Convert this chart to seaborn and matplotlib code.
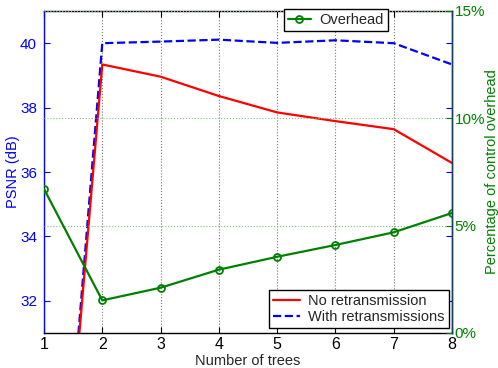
import numpy as np
import pandas as pd
import seaborn as sns
import matplotlib
matplotlib.use('Agg')
import matplotlib.pyplot as plt
from matplotlib.ticker import FormatStrFormatter

# Data
trees = [1, 2, 3, 4, 5, 6, 7, 8]
psnr_no_retx = [18.1, 39.34, 38.96, 38.36, 37.85, 37.58, 37.33, 36.28]
psnr_with_retx = [18.0, 40.0, 40.05, 40.11, 40.01, 40.09, 40.0, 39.34]
overhead_pct = [6.71, 1.52, 2.11, 2.95, 3.55, 4.10, 4.69, 5.59]

sns.set_style('white')
plt.rcParams['font.family'] = ['Liberation Sans', 'DejaVu Sans']
plt.rcParams['font.size'] = 10

blue = '#0000ff'
red = '#ff0000'
green = '#008000'

fig = plt.figure(figsize=(4.98, 3.68), dpi=100)
ax = fig.add_axes([44 / 498, 35 / 368, 408 / 498, 322 / 368])

df = pd.DataFrame({'trees': trees, 'no': psnr_no_retx, 'with': psnr_with_retx,
                   'overhead': overhead_pct})

sns.lineplot(data=df, x='trees', y='with', ax=ax, color=blue, linestyle='--',
             linewidth=1.6, label='With retransmissions', errorbar=None)
sns.lineplot(data=df, x='trees', y='no', ax=ax, color=red, linewidth=1.6,
             label='No retransmission', errorbar=None)

ax.set_xlim(1, 8)
ax.set_ylim(31, 41)
ax.set_xticks(trees)
ax.set_yticks([32, 34, 36, 38, 40])

ax2 = ax.twinx()
sns.lineplot(data=df, x='trees', y='overhead', ax=ax2, color=green, linewidth=1.6,
             marker='o', markersize=5, markerfacecolor='none', markeredgecolor=green,
             markeredgewidth=1.3, label='Overhead', errorbar=None)
ax2.set_ylim(0, 15)
ax2.set_yticks([0, 5, 10, 15])
ax2.yaxis.set_major_formatter(FormatStrFormatter('%d%%'))

# axis styling (MATLAB look)
ax.tick_params(axis='y', which='both', left=True, right=True, labelright=False,
               direction='in', length=4, colors=blue, labelsize=11, pad=5)
ax.tick_params(axis='x', bottom=True, top=True, direction='in', length=4,
               colors='black', labelsize=11.5, pad=3)
ax2.tick_params(axis='y', right=True, direction='in', length=4, colors=green,
                labelsize=11, pad=2)

for sp in ['top', 'bottom']:
    ax.spines[sp].set_color('black')
ax.spines['left'].set_color(blue)
ax2.spines['left'].set_visible(False)
ax2.spines['top'].set_visible(False)
ax2.spines['bottom'].set_visible(False)
ax2.spines['right'].set_color('#1a4060')
for a in (ax, ax2):
    for sp in a.spines.values():
        sp.set_linewidth(1.0)

ax.grid(True, axis='x', linestyle=':', color='#777777', linewidth=0.8)
ax.grid(False, axis='y')
ax2.grid(True, axis='y', linestyle=':', color='#80c080', linewidth=0.8)
ax2.grid(False, axis='x')

ax.set_xlabel('Number of trees', fontsize=10.5, labelpad=1)
ax.set_ylabel('PSNR (dB)', fontsize=10.5, color=blue)
ax.yaxis.set_label_coords(-0.058, 0.5)
ax2.set_ylabel('Percentage of control overhead', fontsize=10.5, color=green)
ax2.yaxis.set_label_coords(1.082, 0.5)

# legends
h, l = ax.get_legend_handles_labels()
order = [l.index('No retransmission'), l.index('With retransmissions')]
leg1 = ax.legend([h[i] for i in order], [l[i] for i in order], loc='lower right',
                 bbox_to_anchor=(0.993, 0.0155), borderaxespad=0, fancybox=False,
                 edgecolor='black', framealpha=1, handlelength=1.8,
                 handletextpad=0.6, labelspacing=0.1, borderpad=0.3, fontsize=10.5)
leg1.get_frame().set_linewidth(1.0)

leg2 = ax2.legend(loc='upper left', bbox_to_anchor=(0.588, 1.005), borderaxespad=0,
                  fancybox=False, edgecolor='black', framealpha=1, handlelength=1.6,
                  handletextpad=0.6, borderpad=0.25, fontsize=10.5)
leg2.get_frame().set_linewidth(1.0)

fig.savefig('out.png', dpi=100)
